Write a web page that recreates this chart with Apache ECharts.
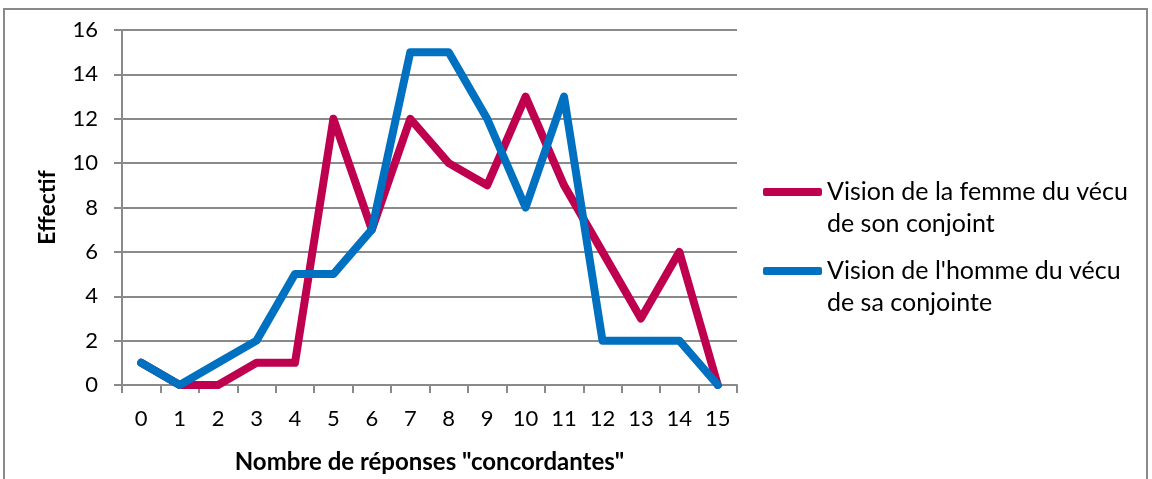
<!DOCTYPE html>
<html>
<head>
<meta charset="utf-8">
<script src="https://cdn.jsdelivr.net/npm/echarts@6/dist/echarts.min.js"></script>
<style>
html,body{margin:0;padding:0;background:#fff;}
#frame{position:absolute;left:3px;top:8px;width:1145px;height:480px;border:2px solid #8a8a8a;box-sizing:border-box;}
#chart{position:absolute;left:0;top:0;width:1152px;height:479px;}
</style>
</head>
<body>
<div id="frame"></div>
<div id="chart"></div>
<script>
const categories = ['0','1','2','3','4','5','6','7','8','9','10','11','12','13','14','15'];
const seriesNames = ['Vision de la femme du vécu de son conjoint', "Vision de l'homme du vécu de sa conjointe"];
const femme = [1, 0, 0, 1, 1, 12, 7, 12, 10, 9, 13, 9, 6, 3, 6, 0];
const homme = [1, 0, 1, 2, 5, 5, 7, 15, 15, 12, 8, 13, 2, 2, 2, 0];
const yTicks = [0, 2, 4, 6, 8, 10, 12, 14, 16];

const font = 'Lato, "Open Sans", sans-serif';
const chart = echarts.init(document.getElementById('chart'));
const legendLines = {};
legendLines[seriesNames[0]] = '\u00a0\nVision de la femme du vécu\nde son conjoint';
legendLines[seriesNames[1]] = "\u00a0\nVision de l'homme du vécu\nde sa conjointe";

chart.setOption({
  animation: false,
  textStyle: { fontFamily: font },
  grid: { left: 122, right: 415, top: 30, bottom: 94, containLabel: false, outerBoundsMode: 'none' },
  legend: {
    orient: 'vertical',
    left: 763,
    top: 144,
    padding: 0,
    itemWidth: 59,
    itemHeight: 8,
    itemGap: -17,
    icon: 'roundRect',
    data: seriesNames,
    formatter: n => legendLines[n],
    textStyle: { fontFamily: font, fontSize: 25, color: '#000', lineHeight: 32 }
  },
  xAxis: {
    type: 'category',
    data: categories,
    boundaryGap: true,
    name: 'Nombre de réponses "concordantes"',
    nameLocation: 'middle',
    nameGap: 65,
    nameTextStyle: { fontFamily: font, fontSize: 24, fontWeight: 'bold', color: '#000' },
    axisLine: { lineStyle: { color: '#8a8a8a', width: 2 } },
    axisTick: { show: true, length: 8, lineStyle: { color: '#8a8a8a', width: 2 } },
    axisLabel: { fontFamily: font, fontSize: 22, color: '#000', margin: 23, interval: 0 },
    splitLine: { show: false }
  },
  yAxis: {
    type: 'value',
    min: 0,
    max: 16,
    interval: 2,
    name: 'Effectif',
    nameLocation: 'middle',
    nameGap: 63,
    nameRotate: 90,
    nameTextStyle: { fontFamily: font, fontSize: 23, fontWeight: 'bold', color: '#000' },
    axisLine: { show: true, lineStyle: { color: '#8a8a8a', width: 2 } },
    axisTick: { show: true, length: 8, lineStyle: { color: '#8a8a8a', width: 2 } },
    axisLabel: { fontFamily: font, fontSize: 22, color: '#000', margin: 24, formatter: v => yTicks.includes(v) ? String(v) : '' },
    splitLine: { show: true, lineStyle: { color: '#8a8a8a', width: 2 } }
  },
  series: [
    {
      name: seriesNames[0], type: 'line', data: femme, showSymbol: false, symbol: 'none',
      itemStyle: { color: '#BE004F' },
      lineStyle: { color: '#BE004F', width: 8, cap: 'round', join: 'round' }
    },
    {
      name: seriesNames[1], type: 'line', data: homme, showSymbol: false, symbol: 'none',
      itemStyle: { color: '#0070C0' },
      lineStyle: { color: '#0070C0', width: 8, cap: 'round', join: 'round' }
    }
  ]
});
</script>
</body>
</html>
